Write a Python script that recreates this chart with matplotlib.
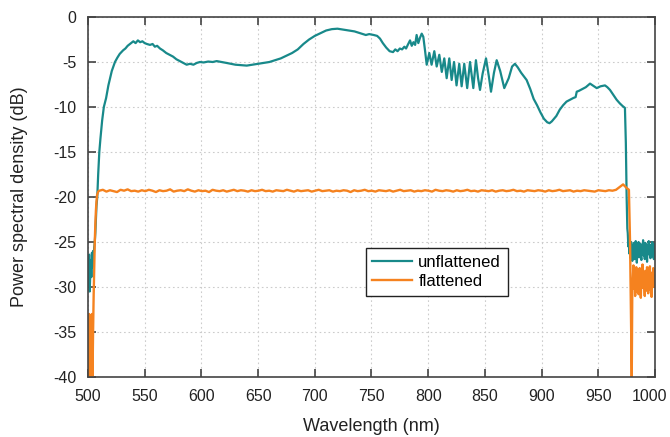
import numpy as np
import matplotlib
matplotlib.use("AGG")
import matplotlib.pyplot as plt
import matplotlib.transforms as mtransforms

# unflattened spectrum, main part (nm, dB)
wl_unflat = [500, 500.5, 501, 501.5, 502, 502.5, 503, 503.5, 504, 504.5, 505, 505.5, 506, 506.5, 507, 507.5,
             508.2, 509, 510, 511, 512.5, 514, 516, 518, 521, 523.8, 526, 528, 531, 533, 535, 537, 540, 542,
             544, 546, 548, 550, 552, 554.7, 557, 559, 561, 563.5, 566, 569, 572, 575, 578, 581, 584, 587,
             590, 593, 596, 598.8, 602, 606, 610, 613.5, 618, 622, 626, 630, 635, 640, 645, 650, 655, 660,
             665, 670, 675, 680, 685, 690, 695, 700, 705, 710, 715, 720, 725, 730, 735, 740, 745, 748, 752,
             755, 757.5, 760, 763, 766, 769, 771, 773, 775, 777, 779, 780.5, 782, 784, 785.5, 787, 788.5,
             789.8, 791.3, 792.8, 794.3, 795.7, 797.2, 798.7,
             801, 803, 805.4, 807.5, 809.8, 812, 814.2, 816.3, 818.6, 820.7, 822.8, 825, 827.4, 829.5,
             831.8, 834.4, 836.9, 839.8, 842.1, 844, 845.7, 848, 851, 853.5, 855.4, 858, 860.4, 863.5,
             867.1, 871, 874, 876.5, 879, 882, 886.8, 890, 893, 896, 899, 902, 905, 907, 909, 911, 913,
             916, 919, 922, 925, 928, 930, 931, 933, 936, 939, 942.7, 945, 948.6, 952, 955.9, 958, 960.3,
             963, 966.2, 969, 971.5, 973.5, 974.3, 975, 975.6]
db_unflat = [-27.5, -29.8, -26.4, -30.5, -28.7, -27.0, -28.9, -26.2, -27.8, -26.0, -26.8, -25.6, -25.0, -24.0,
             -22.5, -21.0, -20.0, -17.5, -15.0, -13.5, -11.5, -10.0, -9.0, -7.6, -6.0, -5.0, -4.5, -4.1, -3.7,
             -3.5, -3.2, -3.0, -2.7, -2.9, -2.6, -2.8, -2.7, -2.9, -3.0, -3.1, -3.0, -3.3, -3.2, -3.5, -3.7,
             -4.0, -4.2, -4.4, -4.7, -4.9, -5.1, -5.3, -5.2, -5.3, -5.1, -5.0, -5.05, -4.95, -5.0, -4.9, -5.0,
             -5.1, -5.2, -5.3, -5.35, -5.4, -5.3, -5.2, -5.1, -5.0, -4.8, -4.6, -4.3, -4.0, -3.6, -3.0, -2.5,
             -2.1, -1.8, -1.5, -1.35, -1.3, -1.4, -1.5, -1.6, -1.8, -2.0, -1.9, -2.0, -2.1, -2.4, -2.9, -3.4,
             -3.8, -3.9, -3.6, -3.8, -3.5, -3.6, -3.3, -3.5, -3.1, -2.6, -3.2, -2.8, -3.1, -2.0, -2.9, -2.3,
             -1.85, -2.2, -3.7, -5.3,
             -4.0, -5.3, -3.8, -5.5, -4.2, -6.1, -4.6, -6.8, -4.6, -7.0, -5.0, -7.6, -5.2, -7.7, -5.2, -7.9,
             -5.0, -7.9, -4.8, -6.8, -8.1, -6.3, -4.6, -6.6, -8.3, -6.2, -4.8, -6.0, -7.9, -6.8, -5.5, -5.2,
             -5.6, -6.2, -7.0, -8.0, -9.1, -9.8, -10.6, -11.3, -11.7, -11.8, -11.6, -11.3, -11.0, -10.3, -9.8,
             -9.4, -9.2, -9.0, -8.9, -8.3, -8.2, -8.0, -7.8, -7.4, -7.6, -7.9, -7.7, -7.6, -7.8, -8.1, -8.6,
             -9.2, -9.6, -9.9, -10.1, -14.0, -20.0, -23.5]

# unflattened, noisy tail after the cut (976 .. 1000 nm)
db_unflat_tail = [-24.0, -25.5, -24.8, -26.3, -25.2, -26.8, -25.0, -26.0, -27.1, -25.4, -26.5, -25.1, -26.9,
                  -25.8, -24.9, -26.2, -27.3, -25.5, -26.4, -25.0, -26.7, -25.9, -25.2, -26.6, -27.0, -25.3,
                  -26.1, -24.8, -26.5, -25.7, -26.9, -25.1, -26.3, -25.6, -27.2, -25.4, -26.0, -24.9, -26.4,
                  -25.8, -26.8, -25.3, -26.2, -25.0, -26.6, -25.5, -26.9, -25.2, -26.0]

# flattened spectrum: rising edge (nm, dB)
wl_flat_start = [500, 500.3, 500.6, 501, 501.4, 501.8, 502.2, 502.6, 503, 503.5, 504, 504.5, 505, 505.5,
                 506, 506.5, 507, 507.5, 508, 509]
db_flat_start = [-40, -34, -38, -33, -36, -40, -34.5, -33.5, -36, -33, -40, -35, -31, -28, -25, -23,
                 -21.5, -20.5, -19.8, -19.4]

# flattened plateau, sampled every 3 nm from 510 to 975 nm
db_flat_mid = [-19.3, -19.2, -19.4, -19.25, -19.35, -19.45, -19.2, -19.3, -19.15, -19.35, -19.3, -19.4,
               -19.25, -19.35, -19.2, -19.3, -19.45, -19.25, -19.35, -19.3, -19.15, -19.4, -19.3, -19.25,
               -19.35, -19.15, -19.3, -19.4, -19.25, -19.35, -19.3, -19.45, -19.2, -19.3, -19.35, -19.25,
               -19.4, -19.3, -19.2, -19.35, -19.25, -19.3, -19.4, -19.25, -19.35, -19.3, -19.2, -19.35,
               -19.3, -19.4, -19.25, -19.3, -19.35, -19.2, -19.3, -19.4, -19.25, -19.35, -19.3, -19.25,
               -19.4, -19.3, -19.2, -19.35, -19.3, -19.25, -19.4, -19.3, -19.35, -19.25, -19.3, -19.45,
               -19.25, -19.35, -19.3, -19.2, -19.35, -19.3, -19.4, -19.25, -19.3, -19.35, -19.25, -19.4,
               -19.3, -19.2, -19.35, -19.3, -19.25, -19.4, -19.3, -19.35, -19.25, -19.3, -19.4, -19.2,
               -19.3, -19.35, -19.25, -19.3, -19.4, -19.25, -19.35, -19.3, -19.2, -19.35, -19.3, -19.4,
               -19.25, -19.3, -19.35, -19.25, -19.4, -19.3, -19.25, -19.35, -19.3, -19.2, -19.35, -19.3,
               -19.4, -19.25, -19.3, -19.35, -19.25, -19.3, -19.4, -19.25, -19.35, -19.3, -19.2, -19.35,
               -19.3, -19.25, -19.4, -19.3, -19.35, -19.25, -19.3, -19.35, -19.4, -19.25, -19.3, -19.35,
               -19.25, -19.3, -19.2, -18.9, -18.6, -19.0]

# flattened: drop at the cut and noisy tail
wl_flat_cut = [977, 978, 979, 979.5, 980]
db_flat_cut = [-19.2, -25.0, -35.0, -40.0, -30.0]
db_flat_tail = [-29.0, -27.6, -30.2, -28.4, -31.0, -28.9, -27.8, -30.5, -29.3, -28.1, -30.8, -29.6,
                -27.9, -29.9, -31.2, -28.6, -29.4, -27.5, -30.1, -28.8, -29.7, -31.0, -28.2, -29.5,
                -30.4, -27.8, -29.1, -30.7, -28.5, -29.8, -27.7, -30.3, -29.0, -31.1, -28.4, -29.6,
                -27.9, -30.0, -28.7, -29.3]

teal = "#18898A"
orange = "#F5821F"

plt.rcParams['font.family'] = ['Liberation Sans', 'DejaVu Sans']
plt.rcParams['font.size'] = 11.5
plt.rcParams['axes.unicode_minus'] = False

wl_u = np.concatenate([wl_unflat, np.linspace(976, 1000, len(db_unflat_tail))])
db_u = np.concatenate([db_unflat, db_unflat_tail])

wl_f = np.concatenate([wl_flat_start,
                       np.linspace(510, 975, len(db_flat_mid)),
                       wl_flat_cut,
                       np.linspace(980.5, 1000, len(db_flat_tail))])
db_f = np.concatenate([db_flat_start, db_flat_mid, db_flat_cut, db_flat_tail])

fig = plt.figure(figsize=(6.7, 4.37), dpi=100)
ax = fig.add_axes([0.1313, 0.1373, 0.8463, 0.8238])

ax.plot(wl_u, db_u, color=teal, lw=1.6, label="unflattened")
ax.plot(wl_f, db_f, color=orange, lw=1.7, label="flattened")

ax.set_xlim(500, 1000)
ax.set_ylim(-40, 0)
ax.set_xticks(np.arange(500, 1001, 50))
ax.set_yticks(np.arange(-40, 1, 5))
ax.grid(True, color="#cccccc", linestyle=(0, (1.5, 2.5)), lw=0.8)
ax.tick_params(direction="in", length=6, width=1.1, top=True, right=True, color="#333333",
               labelcolor="#222222", pad=8.5)
for sp in ax.spines.values():
    sp.set_color("#444444")
    sp.set_linewidth(1.2)

# keep the last x label inside the picture
fig.canvas.draw()
last = ax.get_xticklabels()[-1]
last.set_transform(last.get_transform() + mtransforms.ScaledTranslation(-4 / 72, 0, fig.dpi_scale_trans))

ax.set_xlabel("Wavelength (nm)", color="#222222", labelpad=10, fontsize=13)
ax.set_ylabel("Power spectral density (dB)", color="#222222", labelpad=18, fontsize=13)

leg = ax.legend(loc="upper left", bbox_to_anchor=(0.49, 0.358), fancybox=False, framealpha=1,
                edgecolor="#222222", handlelength=2.4, handletextpad=0.35, borderpad=0.4,
                labelspacing=0.25, borderaxespad=0, fontsize=12)
leg.get_frame().set_linewidth(1.0)

fig.savefig("out.png", dpi=100)
